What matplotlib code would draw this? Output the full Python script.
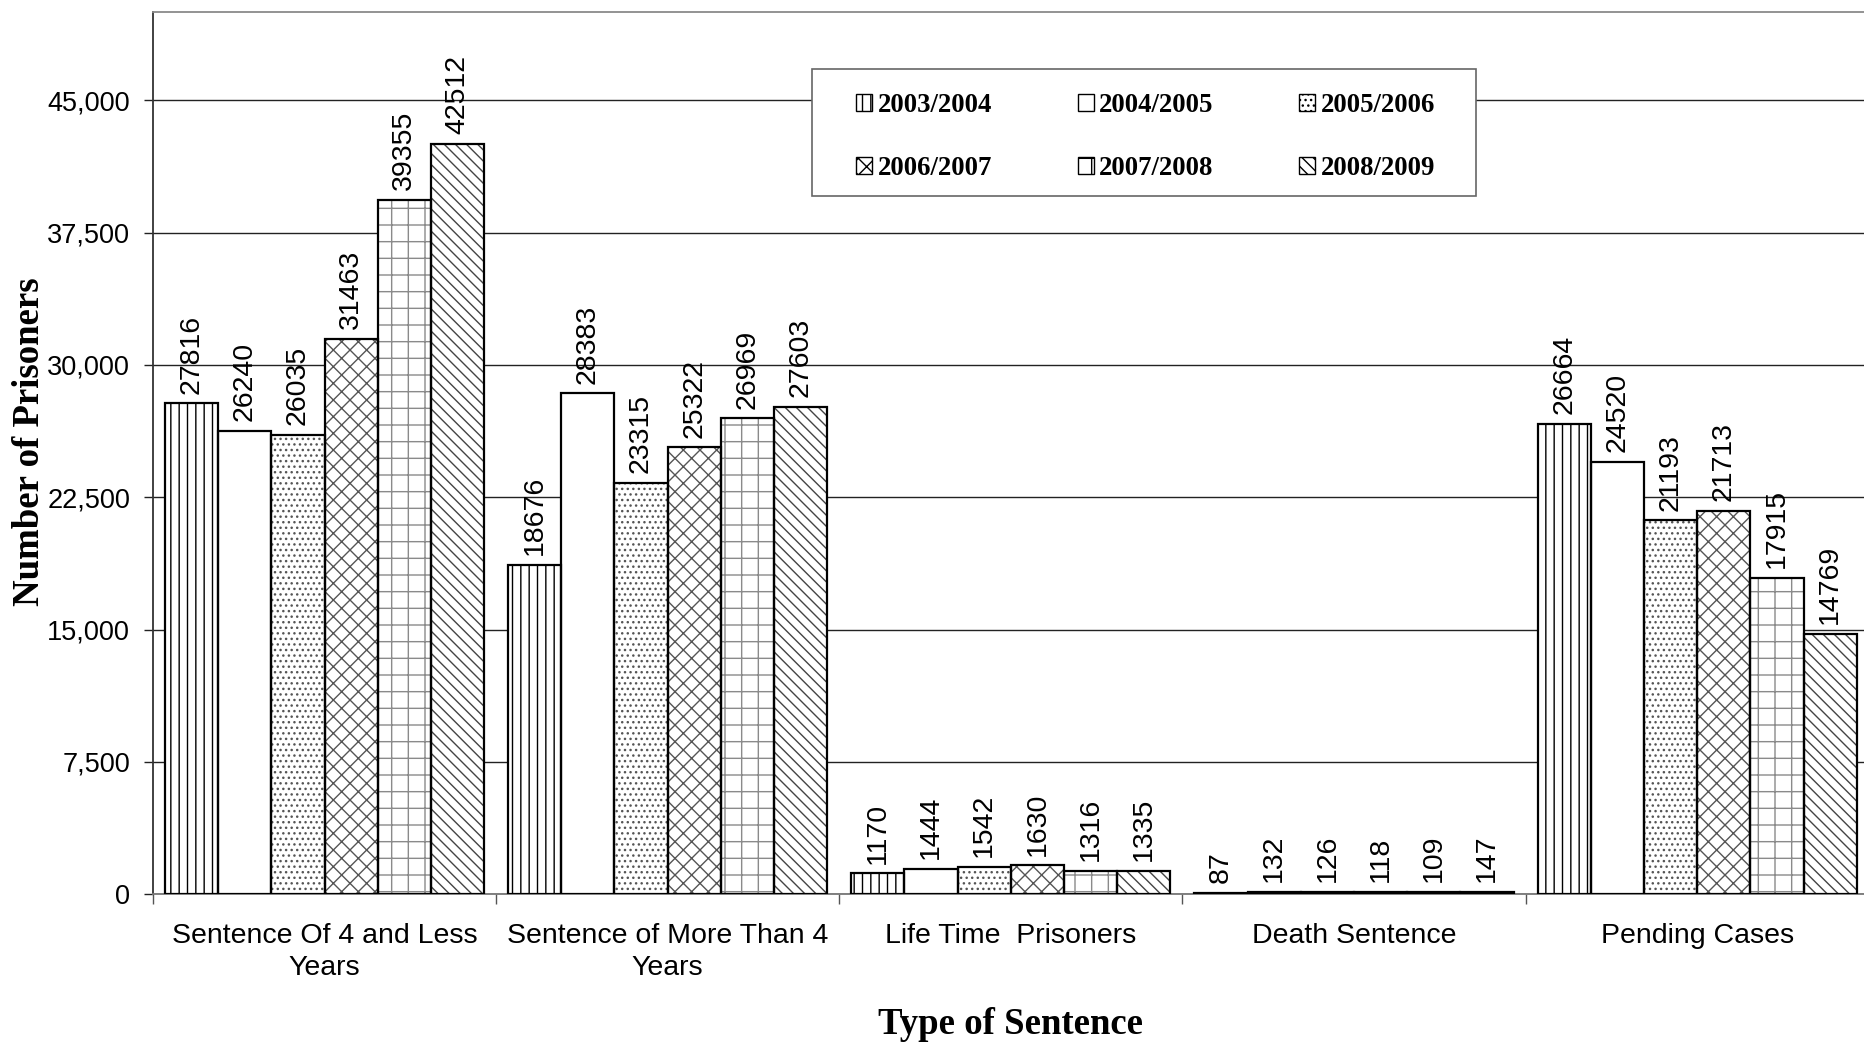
import numpy as np
import matplotlib
matplotlib.use("Agg")
import matplotlib.pyplot as plt
from matplotlib.patches import Patch, Rectangle
from matplotlib.ticker import FuncFormatter, FixedLocator

# data
categories = ["Sentence Of 4 and Less\nYears", "Sentence of More Than 4\nYears",
              "Life Time  Prisoners", "Death Sentence", "Pending Cases"]
years = ["2003/2004", "2004/2005", "2005/2006", "2006/2007", "2007/2008", "2008/2009"]
y2003 = [27816, 18676, 1170, 87, 26664]
y2004 = [26240, 28383, 1444, 132, 24520]
y2005 = [26035, 23315, 1542, 126, 21193]
y2006 = [31463, 25322, 1630, 118, 21713]
y2007 = [39355, 26969, 1316, 109, 17915]
y2008 = [42512, 27603, 1335, 147, 14769]
series = [y2003, y2004, y2005, y2006, y2007, y2008]
yticks = [0, 7500, 15000, 22500, 30000, 37500, 45000]

# styling per series
hatches = ["||", "", "...", "xx", "+", "\\\\\\"]
hatch_colors = ["black", "black", "#555555", "#555555", "#8a8a8a", "#444444"]

plt.rcParams["font.family"] = ["Liberation Sans", "DejaVu Sans"]
plt.rcParams["hatch.linewidth"] = 1.0

W, H = 1865, 1047
fig = plt.figure(figsize=(W / 100, H / 100), dpi=100)
ax = fig.add_axes([0.082, 0.146, 0.920, 0.8425])

x = np.arange(len(categories))
w = 0.155
for j, vals in enumerate(series):
    pos = x + (j - 2.5) * w
    ax.bar(pos, vals, w, color="white", edgecolor=hatch_colors[j],
           hatch=hatches[j], linewidth=0, zorder=2)
    bars = ax.bar(pos, vals, w, fill=False, edgecolor="black",
                  linewidth=1.6, zorder=3)
    for b, v in zip(bars, vals):
        ax.annotate(str(v), (b.get_x() + b.get_width() / 2, v),
                    xytext=(0, 7), textcoords="offset points",
                    rotation=90, ha="center", va="bottom", fontsize=20.5)

ax.set_xlim(-0.5, len(categories) - 0.5)
ax.set_ylim(0, 50000)
ax.set_yticks(yticks)
ax.yaxis.set_major_formatter(FuncFormatter(lambda v, p: f"{int(v):,}"))
ax.yaxis.grid(True, color="#222222", linewidth=1.0)
ax.set_axisbelow(True)
ax.tick_params(axis="y", labelsize=19.5, length=6.5, width=1, pad=10, color="#222222")

ax.set_xticks(x)
ax.set_xticklabels(categories, fontsize=20.5, linespacing=1.3)
ax.tick_params(axis="x", which="major", length=0, pad=21)
ax.xaxis.set_minor_locator(FixedLocator(np.arange(len(categories) + 1) - 0.5))
ax.tick_params(axis="x", which="minor", length=7, width=1, color="#555555")

for s in ["top", "right"]:
    ax.spines[s].set_color("#8a8a8a")
ax.spines["left"].set_color("#333333")
ax.spines["bottom"].set_color("#777777")
for s in ax.spines.values():
    s.set_linewidth(1.3)

fig.text(1011 / W, 1 - 1025 / H, "Type of Sentence", ha="center", va="center",
         fontsize=26.5, fontweight="bold", family="Liberation Serif")
fig.text(30 / W, 1 - 442 / H, "Number of Prisoners", ha="center", va="center",
         rotation=90, fontsize=26.5, fontweight="bold", family="Liberation Serif")

# legend box drawn by hand, entries placed inside it
fig.patches.append(Rectangle((812 / W, 1 - 196 / H), 664 / W, 127 / H,
                             transform=fig.transFigure, facecolor="white",
                             edgecolor="#666666", linewidth=1.2, zorder=5))
handles = [Patch(facecolor="white", edgecolor="black", hatch=h, linewidth=1)
           for h in hatches]
order = [0, 3, 1, 4, 2, 5]
leg = fig.legend([handles[i] for i in order], [years[i] for i in order],
                 ncol=3, loc="upper left", bbox_to_anchor=(856 / W, 1 - 93 / H),
                 prop={"family": "Liberation Serif", "weight": "bold", "size": 19.3},
                 handlelength=0.6, handleheight=0.6, handletextpad=0.2,
                 columnspacing=3.2, labelspacing=1.42, borderpad=0,
                 borderaxespad=0, frameon=False)
leg.set_zorder(6)

fig.savefig("out.png", dpi=100)
